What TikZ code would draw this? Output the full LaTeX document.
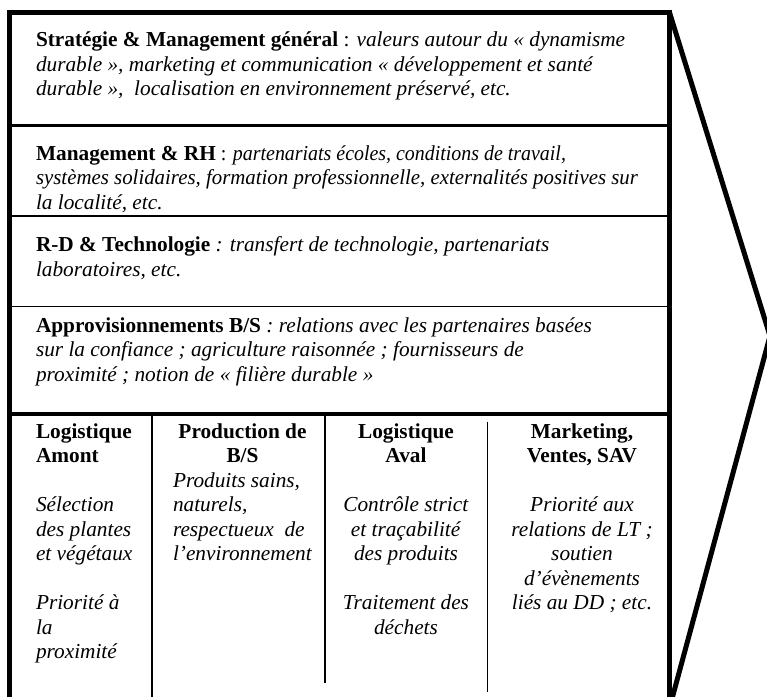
\documentclass[tikz,border=0pt]{standalone}
\usepackage{graphicx}
\usepackage{fontspec}
\setmainfont{Liberation Serif}
\begin{document}
\begin{tikzpicture}[x=1pt,y=-1pt,
  txt/.style={inner sep=0pt, outer sep=0pt, font=\fontsize{21.3}{24.5}\selectfont, align=left, anchor=base west},
  ctxt/.style={txt, align=center, anchor=base},
  frame/.style={line width=4.5pt, line join=miter},
  arrowline/.style={line width=5pt, line join=miter},
  rulethick/.style={line width=4.5pt},
  rulemid/.style={line width=3pt},
  rulethin/.style={line width=1.8pt},
  colline/.style={line width=1.6pt}]
\useasboundingbox (0,0) rectangle (767,696);
\begin{scope}
\clip (0,0) rectangle (767,696);
% corners
\coordinate (tl) at (9.5,12.5);
\coordinate (tr) at (669.5,12.5);
\coordinate (bl) at (9.5,708);
\coordinate (br) at (669.5,708);
\coordinate (tip) at (770,336);
% frame and chevron
\draw[frame] (bl) -- (tl) -- (tr) -- (br);
\draw[arrowline] (tr) -- (tip) -- (br);
% horizontal dividers
\coordinate (h1l) at (9.5,125); \coordinate (h1r) at (669.5,125);
\coordinate (h2l) at (9.5,216); \coordinate (h2r) at (669.5,216);
\coordinate (h3l) at (9.5,306.5); \coordinate (h3r) at (669.5,306.5);
\coordinate (h4l) at (9.5,414); \coordinate (h4r) at (669.5,414);
\draw[rulemid] (h1l) -- (h1r);
\draw[rulethin] (h2l) -- (h2r);
\draw[rulethin] (h3l) -- (h3r);
\draw[rulethick] (h4l) -- (h4r);
% column lines
\coordinate (v1t) at (151.7,414); \coordinate (v1b) at (151.7,708);
\coordinate (v2t) at (325,414); \coordinate (v2b) at (325,683);
\coordinate (v3t) at (487.3,421.7); \coordinate (v3b) at (487.3,692);
\draw[line width=2pt] (v1t) -- (v1b);
\draw[colline] (v2t) -- (v2b);
\draw[colline] (v3t) -- (v3b);
\end{scope}
% top sections (base anchor = baseline of last line)
\node[txt] (strat) at (36,95.5) {\textbf{Stratégie \& Management général} : \textit{valeurs autour du «~dynamisme}\\
\textit{durable~», marketing et communication «~développement et santé}\\
\textit{durable~»,~ localisation en environnement préservé, etc.}};
\node[txt] (rh) at (36,209) {\textbf{Management \& RH}\scalebox{0.935}[1]{ : \textit{partenariats écoles, conditions de travail,}}\\
\scalebox{0.979}[1]{\textit{systèmes solidaires, formation professionnelle, externalités positives sur}}\\
\textit{la localité, etc.}};
\node[txt] (rd) at (36,276) {\textbf{R-D \& Technologie} \textit{: transfert de technologie, partenariats}\\
\textit{laboratoires, etc.}};
\node[txt] (appro) at (36,381) {\textbf{Approvisionnements B/S} \textit{: relations avec les partenaires basées}\\
\textit{sur la confiance ; agriculture raisonnée ; fournisseurs de}\\
\textit{proximité ; notion de «~filière durable~»}};
% columns
\node[txt] (c1h) at (36,462.8) {\textbf{Logistique}\\ \textbf{Amont}};
\node[txt] (c1a) at (36,560.8) {\textit{Sélection}\\ \textit{des plantes}\\ \textit{et végétaux}};
\node[txt] (c1b) at (36,658.8) {\textit{Priorité à}\\ \textit{la}\\ \textit{proximité}};
\node[ctxt] (c2h) at (242.5,462.8) {\textbf{Production de}\\ \textbf{B/S}};
\node[txt] (c2a) at (173,560.8) {\textit{Produits sains,}\\ \textit{naturels,}\\ \textit{respectueux~~de}\\ \textit{l’environnement}};
\node[ctxt] (c3h) at (406,462.8) {\textbf{Logistique}\\ \textbf{Aval}};
\node[ctxt] (c3a) at (406,560.8) {\textit{Contrôle strict}\\ \textit{et traçabilité}\\ \textit{des produits}};
\node[ctxt] (c3b) at (406,634.3) {\textit{Traitement des}\\ \textit{déchets}};
\node[ctxt] (c4h) at (582,462.8) {\textbf{Marketing,}\\ \textbf{Ventes, SAV}};
\node[ctxt] (c4a) at (582,609.8) {\textit{Priorité aux}\\ \textit{relations de LT ;}\\ \textit{soutien}\\ \textit{d’évènements}\\ \textit{liés au DD ; etc.}};
\end{tikzpicture}
\end{document}
